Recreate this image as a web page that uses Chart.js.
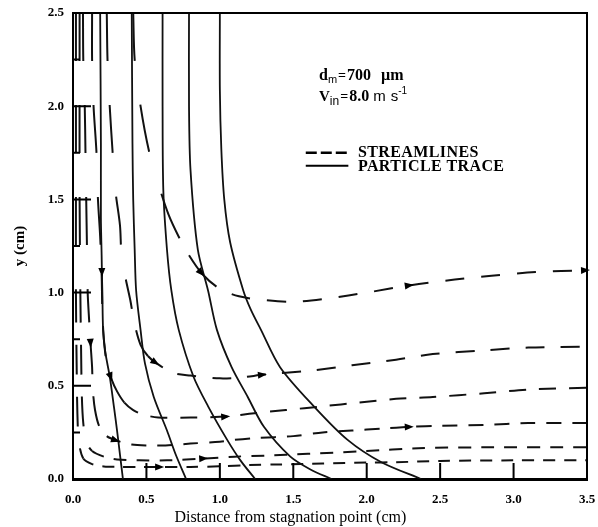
<!DOCTYPE html>
<html>
<head>
<meta charset="utf-8">
<title>Particle traces and streamlines near a stagnation point</title>
<script src="https://cdn.jsdelivr.net/npm/chart.js@4.4.1/dist/chart.umd.min.js"></script>
<style>
  html, body { margin: 0; padding: 0; background: #fff; }
  #wrap { width: 598px; height: 527px; }
</style>
</head>
<body>
<div id="wrap"><canvas id="chart" width="598" height="527"></canvas></div>
<script>
// axis ticks (cm)
const xTicks = [0, 0.5, 1.0, 1.5, 2.0, 2.5, 3.0, 3.5];
const yTicks = [0, 0.5, 1.0, 1.5, 2.0, 2.5];
const yMinorTicks = [0.25, 0.75, 1.25, 1.75, 2.25];

// particle traces, [x, y] in cm
const trace1 = [[0.185, 2.5], [0.19, 1.8], [0.19, 1.4], [0.195, 1.2], [0.197, 1.1], [0.2, 1.0], [0.205, 0.8], [0.22, 0.68], [0.25, 0.55], [0.28, 0.38], [0.30, 0.26], [0.32, 0.13], [0.34, 0]];
const trace2 = [[0.40, 2.5], [0.405, 1.8], [0.41, 1.5], [0.42, 1.23], [0.43, 1.01], [0.46, 0.80], [0.49, 0.62], [0.55, 0.44], [0.64, 0.26], [0.70, 0.13], [0.77, 0]];
const trace3 = [[0.61, 2.5], [0.61, 2.0], [0.615, 1.55], [0.64, 1.23], [0.67, 1.01], [0.72, 0.80], [0.82, 0.55], [0.92, 0.39], [1.05, 0.21], [1.14, 0.10], [1.24, 0]];
const trace4 = [[0.79, 2.5], [0.79, 2.0], [0.80, 1.66], [0.85, 1.23], [0.92, 1.01], [0.98, 0.80], [1.08, 0.60], [1.19, 0.44], [1.30, 0.28], [1.48, 0.12], [1.62, 0.05], [1.76, 0]];
const trace5 = [[1.0, 2.5], [1.0, 2.09], [1.01, 1.77], [1.03, 1.50], [1.07, 1.27], [1.16, 1.01], [1.21, 0.91], [1.28, 0.80], [1.41, 0.60], [1.64, 0.39], [1.87, 0.21], [2.10, 0.09], [2.37, 0]];

// streamlines, [x, y] in cm
const streamA = [[0.41, 2.5], [0.42, 2.25], [0.46, 2.0], [0.52, 1.75], [0.59, 1.56], [0.65, 1.42], [0.72, 1.30], [0.79, 1.20], [0.88, 1.10], [1.0, 1.02], [1.13, 0.98], [1.3, 0.96], [1.5, 0.95], [1.75, 0.97], [2.0, 1.0], [2.3, 1.04], [2.6, 1.07], [2.85, 1.09], [3.15, 1.11], [3.5, 1.12]];
const streamB = [[0.23, 2.5], [0.235, 2.25], [0.25, 2.0], [0.27, 1.75], [0.29, 1.54], [0.32, 1.36], [0.33, 1.21], [0.36, 1.07], [0.39, 0.96], [0.42, 0.83], [0.46, 0.72], [0.51, 0.66], [0.57, 0.62], [0.68, 0.57], [0.8, 0.555], [1.0, 0.54], [1.15, 0.545], [1.3, 0.56], [1.6, 0.58], [1.9, 0.61], [2.2, 0.64], [2.45, 0.67], [2.8, 0.69], [3.1, 0.705], [3.5, 0.71]];
const streamC = [[0.13, 2.5], [0.13, 2.25], [0.14, 2.0], [0.16, 1.75], [0.17, 1.5], [0.185, 1.3], [0.195, 1.1], [0.2, 0.9], [0.21, 0.75], [0.23, 0.62], [0.26, 0.54], [0.30, 0.47], [0.35, 0.41], [0.41, 0.37], [0.48, 0.345], [0.58, 0.33], [0.8, 0.33], [1.05, 0.335], [1.2, 0.35], [1.45, 0.37], [1.7, 0.39], [1.95, 0.41], [2.2, 0.43], [2.45, 0.44], [2.8, 0.46], [3.1, 0.48], [3.5, 0.49]];
const streamD = [[0.068, 2.5], [0.07, 2.25], [0.08, 2.0], [0.085, 1.75], [0.09, 1.5], [0.095, 1.25], [0.10, 1.0], [0.11, 0.85], [0.12, 0.72], [0.13, 0.60], [0.135, 0.48], [0.15, 0.37], [0.18, 0.28], [0.23, 0.23], [0.30, 0.205], [0.40, 0.185], [0.51, 0.18], [0.63, 0.18], [0.8, 0.19], [1.0, 0.20], [1.1, 0.21], [1.25, 0.22], [1.5, 0.23], [1.7, 0.25], [1.9, 0.26], [2.1, 0.27], [2.3, 0.28], [2.5, 0.285], [2.8, 0.29], [3.1, 0.30], [3.5, 0.30]];
const streamE = [[0.045, 2.5], [0.045, 1.5], [0.05, 1.0], [0.055, 0.7], [0.06, 0.45], [0.07, 0.3], [0.09, 0.2], [0.13, 0.15], [0.21, 0.12], [0.30, 0.105], [0.45, 0.10], [0.64, 0.10], [0.9, 0.11], [1.1, 0.12], [1.3, 0.125], [1.6, 0.135], [2.0, 0.15], [2.35, 0.165], [2.8, 0.17], [3.5, 0.17]];
const streamF = [[0.02, 2.5], [0.02, 1.5], [0.02, 1.0], [0.025, 0.6], [0.03, 0.35], [0.04, 0.2], [0.07, 0.11], [0.13, 0.08], [0.21, 0.067], [0.31, 0.065], [0.45, 0.065], [0.6, 0.065], [0.8, 0.065], [1.0, 0.068], [1.2, 0.075], [1.4, 0.078], [1.7, 0.083], [2.0, 0.088], [2.2, 0.09], [2.5, 0.097], [3.0, 0.10], [3.5, 0.10]];

const SERIF = '"Liberation Serif", "Times New Roman", serif';
const SANS = '"Liberation Sans", Arial, sans-serif';

const pts = arr => arr.map(([x, y]) => ({x, y}));

// long dashes where the flow runs down the wall, short ones along the plate
function streamDash(flat) {
  return c => {
    const steep = Math.abs(c.p1.y - c.p0.y) > Math.abs(c.p1.x - c.p0.x);
    if (!steep) return flat;
    return c.p0.parsed.y > 1.2 ? [48, 44] : [30, 22];
  };
}

function trace(data, arrowAt) {
  return {
    data: pts(data), showLine: true, borderColor: '#111', borderWidth: 1.8,
    pointRadius: 0, tension: 0.3, arrowAt: arrowAt || []
  };
}

function stream(data, flat, arrowAt) {
  return {
    data: pts(data), showLine: true, borderColor: '#111', borderWidth: 2,
    borderDash: flat, pointRadius: 0, tension: 0.3, arrowAt: arrowAt || [],
    segment: { borderDash: streamDash(flat) }
  };
}

// text runs laid out left to right: [text, font, gapBefore, baselineShift]
function drawRuns(ctx, x0, base, parts) {
  let cx = x0;
  parts.forEach(([t, font, gap, dy]) => {
    ctx.font = font;
    cx += gap;
    ctx.fillText(t, cx, base + dy);
    cx += ctx.measureText(t).width;
  });
}

// inward tick marks, frame, arrowheads, key and labels
const decor = {
  id: 'decor',
  afterDatasetsDraw(chart) {
    const {ctx, chartArea: a, scales: {x, y}} = chart;
    ctx.save();
    ctx.strokeStyle = '#000';
    ctx.fillStyle = '#000';

    ctx.lineWidth = 2;
    ctx.beginPath();
    ctx.moveTo(a.left, a.top);
    ctx.lineTo(a.right, a.top);
    ctx.lineTo(a.right, a.bottom);
    ctx.stroke();

    ctx.beginPath();
    xTicks.slice(1, -1).forEach(v => {
      const px = x.getPixelForValue(v);
      ctx.moveTo(px, a.bottom);
      ctx.lineTo(px, a.bottom - 16);
    });
    yTicks.slice(1, -1).forEach(v => {
      const py = y.getPixelForValue(v);
      ctx.moveTo(a.left, py);
      ctx.lineTo(a.left + 18, py);
    });
    yMinorTicks.forEach(v => {
      const py = y.getPixelForValue(v);
      ctx.moveTo(a.left, py);
      ctx.lineTo(a.left + 7, py);
    });
    ctx.stroke();

    // flow direction arrowheads
    chart.data.datasets.forEach((ds, di) => {
      const els = chart.getDatasetMeta(di).data;
      (ds.arrowAt || []).forEach(i => {
        const p = els[i], p0 = els[Math.max(i - 1, 0)], p1 = els[Math.min(i + 1, els.length - 1)];
        const ang = Math.atan2(p1.y - p0.y, p1.x - p0.x);
        ctx.save();
        ctx.translate(p.x, p.y);
        ctx.rotate(ang);
        ctx.beginPath();
        ctx.moveTo(3, 0);
        ctx.lineTo(-6, -3.5);
        ctx.lineTo(-6, 3.5);
        ctx.closePath();
        ctx.fill();
        ctx.restore();
      });
    });

    // run parameters
    const tx = x.getPixelForValue(1.675);
    ctx.textBaseline = 'alphabetic';
    ctx.textAlign = 'left';
    drawRuns(ctx, tx, y.getPixelForValue(2.14), [
      ['d', 'bold 16px ' + SERIF, 0, 0],
      ['m', '11px ' + SANS, 0, 3],
      ['=', 'bold 14px ' + SERIF, 1, 0],
      ['700', 'bold 16px ' + SERIF, 1, 0],
      ['\u00b5m', 'bold 16px ' + SERIF, 10, 0]
    ]);
    drawRuns(ctx, tx, y.getPixelForValue(2.03), [
      ['V', 'bold 15px ' + SERIF, 0, 0],
      ['in', '12px ' + SANS, 0, 4],
      ['=', 'bold 14px ' + SERIF, 1, 0],
      ['8.0', 'bold 16px ' + SERIF, 1, 0],
      ['m', '15px ' + SANS, 4, 0],
      ['s', '15px ' + SANS, 5, 0],
      ['-1', '10px ' + SANS, 0, -7]
    ]);

    // key
    const kx0 = x.getPixelForValue(1.585), kx1 = x.getPixelForValue(1.875);
    const kDash = y.getPixelForValue(1.75), kSolid = y.getPixelForValue(1.68);
    ctx.lineWidth = 2.5;
    ctx.setLineDash([11, 4]);
    ctx.beginPath();
    ctx.moveTo(kx0, kDash);
    ctx.lineTo(kx1, kDash);
    ctx.stroke();
    ctx.setLineDash([]);
    ctx.lineWidth = 2;
    ctx.beginPath();
    ctx.moveTo(kx0, kSolid);
    ctx.lineTo(kx1, kSolid);
    ctx.stroke();
    ctx.font = 'bold 16px ' + SERIF;
    ctx.letterSpacing = '0.4px';
    ctx.textBaseline = 'middle';
    ctx.fillText('STREAMLINES', x.getPixelForValue(1.94), kDash);
    ctx.fillText('PARTICLE TRACE', x.getPixelForValue(1.94), kSolid + 1);
    ctx.letterSpacing = '0px';

    // x axis title
    ctx.font = '16px ' + SERIF;
    ctx.textAlign = 'center';
    ctx.fillText('Distance from stagnation point (cm)', x.getPixelForValue(1.48), a.bottom + 39);
    ctx.restore();
  }
};

new Chart(document.getElementById('chart'), {
  type: 'scatter',
  data: {
    datasets: [
      trace(trace1, [4]),
      trace(trace2),
      trace(trace3),
      trace(trace4),
      trace(trace5),
      stream(streamA, [19, 17], [8, 15, 19]),
      stream(streamB, [19, 16], [12, 17]),
      stream(streamC, [17, 13], [10, 17]),
      stream(streamD, [15, 11], [8, 14, 26]),
      stream(streamE, [13, 10], [12]),
      stream(streamF, [12, 9], [11])
    ]
  },
  options: {
    responsive: false,
    animation: false,
    layout: { padding: { top: 13, right: 11 } },
    plugins: { legend: { display: false }, tooltip: { enabled: false } },
    scales: {
      x: {
        type: 'linear', min: 0, max: 3.5,
        afterBuildTicks: s => { s.ticks = xTicks.map(v => ({value: v})); },
        afterFit: s => { s.height = 48; s.paddingLeft = 0; s.paddingRight = 0; },
        border: { display: true, color: '#000', width: 3 },
        grid: { display: false, drawTicks: false },
        ticks: {
          color: '#000', padding: 13, maxRotation: 0, autoSkip: false,
          font: { family: SERIF, weight: 'bold', size: 13 },
          callback: v => v.toFixed(1)
        }
      },
      y: {
        type: 'linear', min: 0, max: 2.5,
        afterBuildTicks: s => { s.ticks = yTicks.map(v => ({value: v})); },
        afterFit: s => { s.width = 73; s.paddingTop = 0; s.paddingBottom = 0; },
        border: { display: true, color: '#000', width: 2 },
        grid: { display: false, drawTicks: false },
        ticks: {
          color: '#000', padding: 9, autoSkip: false,
          font: { family: SERIF, weight: 'bold', size: 13 },
          callback: v => v.toFixed(1)
        },
        title: {
          display: true, text: 'y (cm)', color: '#000', padding: { top: 11, bottom: 0 },
          font: { family: SERIF, weight: 'bold', size: 15 }
        }
      }
    }
  },
  plugins: [decor]
});
</script>
</body>
</html>
